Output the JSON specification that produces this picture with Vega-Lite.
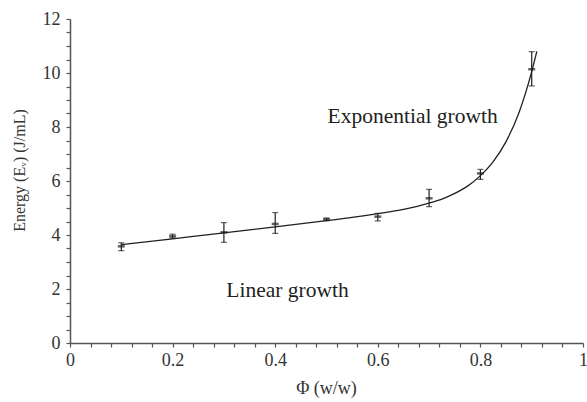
{
  "$schema": "https://vega.github.io/schema/vega-lite/v6.json",
  "width": 513,
  "height": 324,
  "autosize": "none",
  "padding": {"left": 70, "top": 19, "right": 4, "bottom": 59},
  "background": "white",
  "config": {
    "view": {"stroke": null},
    "font": "Liberation Serif",
    "axis": {
      "grid": false,
      "domainColor": "#555555",
      "domainWidth": 1.5,
      "tickColor": "#555555",
      "tickWidth": 1.2,
      "labelFont": "Liberation Serif",
      "labelFontSize": 18,
      "labelColor": "#333333",
      "titleFont": "Liberation Serif",
      "titleFontSize": 17,
      "titleFontWeight": "normal",
      "titleColor": "#333333"
    }
  },
  "datasets": {
    "curve": [
      {"phi": 0.1, "E": 3.64},
      {"phi": 0.2, "E": 3.86},
      {"phi": 0.3, "E": 4.08},
      {"phi": 0.4, "E": 4.3},
      {"phi": 0.5, "E": 4.53},
      {"phi": 0.55, "E": 4.65},
      {"phi": 0.6, "E": 4.79},
      {"phi": 0.65, "E": 4.95},
      {"phi": 0.7, "E": 5.18},
      {"phi": 0.725, "E": 5.33},
      {"phi": 0.75, "E": 5.54},
      {"phi": 0.775, "E": 5.81},
      {"phi": 0.8, "E": 6.2},
      {"phi": 0.825, "E": 6.72},
      {"phi": 0.85, "E": 7.46},
      {"phi": 0.875, "E": 8.52},
      {"phi": 0.9, "E": 10.05},
      {"phi": 0.91, "E": 10.8}
    ],
    "points": [
      {"phi": 0.1, "E": 3.58, "lo": 3.42, "hi": 3.71},
      {"phi": 0.2, "E": 3.95, "lo": 3.88, "hi": 4.03},
      {"phi": 0.3, "E": 4.1, "lo": 3.73, "hi": 4.46},
      {"phi": 0.4, "E": 4.41, "lo": 4.06, "hi": 4.83},
      {"phi": 0.5, "E": 4.58, "lo": 4.53, "hi": 4.63},
      {"phi": 0.6, "E": 4.68, "lo": 4.52, "hi": 4.8},
      {"phi": 0.7, "E": 5.36, "lo": 5.05, "hi": 5.69},
      {"phi": 0.8, "E": 6.28, "lo": 6.06, "hi": 6.43},
      {"phi": 0.9, "E": 10.14, "lo": 9.52, "hi": 10.79}
    ],
    "notes": [
      {"phi": 0.668, "E": 8.15, "label": "Exponential growth"},
      {"phi": 0.424, "E": 1.7, "label": "Linear growth"}
    ]
  },
  "encoding": {
    "x": {
      "field": "phi",
      "type": "quantitative",
      "scale": {"domain": [0, 1], "nice": false, "zero": false},
      "axis": {
        "title": "Φ (w/w)",
        "titleFontSize": 18,
        "titleX": 256,
        "titleY": 50,
        "titleBaseline": "alphabetic",
        "values": [0, 0.04, 0.08, 0.12, 0.16, 0.2, 0.24, 0.28, 0.32, 0.36, 0.4, 0.44, 0.48, 0.52, 0.56, 0.6, 0.64, 0.68, 0.72, 0.76, 0.8, 0.84, 0.88, 0.92, 0.96, 1],
        "labelExpr": "abs(datum.value*5 - round(datum.value*5)) < 0.000001 ? format(datum.value, '~g') : ''",
        "ticks": true,
        "tickSize": 4,
        "labelPadding": 4,
        "labelFlush": false,
        "labelOverlap": false
      }
    },
    "y": {
      "field": "E",
      "type": "quantitative",
      "scale": {"domain": [0, 12], "nice": false, "zero": false},
      "axis": {
        "title": "Energy (Eᵥ) (J/mL)",
        "titleFontSize": 16,
        "titleX": -51,
        "titleY": 151,
        "titleAngle": -90,
        "titleBaseline": "middle",
        "titleAlign": "center",
        "values": [0, 0.5, 1, 1.5, 2, 2.5, 3, 3.5, 4, 4.5, 5, 5.5, 6, 6.5, 7, 7.5, 8, 8.5, 9, 9.5, 10, 10.5, 11, 11.5, 12],
        "labelExpr": "datum.value % 2 == 0 ? format(datum.value, 'd') : ''",
        "ticks": true,
        "tickSize": 4,
        "labelPadding": 6,
        "labelOverlap": false,
        "labelFlush": false
      }
    }
  },
  "layer": [
    {
      "data": {"name": "curve"},
      "mark": {"type": "line", "color": "#231f20", "strokeWidth": 1.3, "interpolate": "monotone"}
    },
    {
      "data": {"name": "points"},
      "mark": {"type": "rule", "color": "#231f20", "strokeWidth": 1.2},
      "encoding": {"y": {"field": "lo", "type": "quantitative"}, "y2": {"field": "hi"}}
    },
    {
      "data": {"name": "points"},
      "mark": {"type": "tick", "orient": "horizontal", "color": "#231f20", "size": 6, "thickness": 1.2},
      "encoding": {"y": {"field": "lo", "type": "quantitative"}}
    },
    {
      "data": {"name": "points"},
      "mark": {"type": "tick", "orient": "horizontal", "color": "#231f20", "size": 6, "thickness": 1.2},
      "encoding": {"y": {"field": "hi", "type": "quantitative"}}
    },
    {
      "data": {"name": "points"},
      "mark": {"type": "tick", "orient": "horizontal", "color": "#231f20", "size": 7, "thickness": 2.5},
      "encoding": {"y": {"field": "E", "type": "quantitative"}}
    },
    {
      "data": {"name": "notes"},
      "mark": {"type": "text", "font": "Liberation Serif", "fontSize": 21.5, "color": "#231f20", "align": "center", "baseline": "alphabetic"},
      "encoding": {"text": {"field": "label"}}
    }
  ]
}
